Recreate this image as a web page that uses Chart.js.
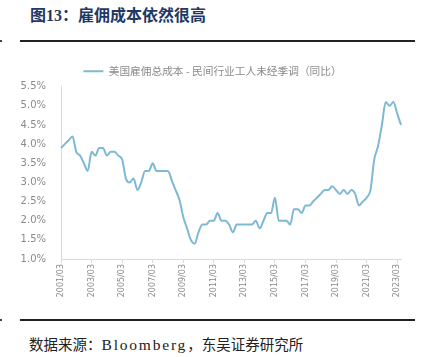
<!DOCTYPE html>
<html><head><meta charset="utf-8">
<script src="https://cdn.jsdelivr.net/npm/chart.js@4"></script>
<style>
html,body{margin:0;padding:0;background:#fff;width:425px;height:357px;overflow:hidden;position:relative}
#title{position:absolute;left:30px;top:2px;font:bold 16px "Liberation Serif","Noto Sans CJK SC";color:#1f3864;white-space:nowrap}
.rule{position:absolute;left:20px;width:395px;height:2px;background:#222}
.dot{position:absolute;left:0;width:2px;height:2px;background:#444}
#src{position:absolute;left:29px;top:333px;font:14.5px "Liberation Serif","Noto Sans CJK SC";color:#222;white-space:nowrap}
#src .en{font-size:15.5px;letter-spacing:1.8px}
#box{position:absolute;left:0;top:52px;width:425px;height:253px}
</style></head><body>
<div id="title">图13：雇佣成本依然很高</div>
<div class="rule" style="top:40px"></div><div class="dot" style="top:40px"></div>
<div class="rule" style="top:319px"></div><div class="dot" style="top:319px"></div>
<div id="src">数据来源：<span class="en">Bloomberg</span>，东吴证券研究所</div>
<div id="box"><canvas id="c"></canvas></div>
<script>
const years = [2001,2002,2003,2004,2005,2006,2007,2008,2009,2010,2011,2012,2013,2014,2015,2016,2017,2018,2019,2020,2021,2022,2023];
const months = ['03','06','09','12'];
const categories = [];
years.forEach(y => months.forEach(m => { if (!(y === 2023 && (m === '09' || m === '12'))) categories.push(y + '/' + m); }));
const seriesName = '美国雇佣总成本 - 民间行业工人未经季调（同比）';
const costYoY = [
 3.9,4.0,4.1,4.2, 3.8,3.7,3.5,3.3, 3.8,3.7,3.9,3.9, 3.7,3.8,3.8,3.7,
 3.6,3.1,3.0,3.1, 2.8,3.0,3.3,3.3, 3.5,3.3,3.3,3.3, 3.3,3.05,2.8,2.55,
 2.1,1.8,1.5,1.4, 1.7,1.9,1.9,2.0, 2.0,2.2,2.0,2.0, 1.9,1.7,1.9,1.9,
 1.9,1.9,1.9,2.0, 1.8,2.0,2.2,2.2, 2.6,2.0,2.0,2.0, 1.9,2.3,2.3,2.2,
 2.4,2.4,2.5,2.6, 2.7,2.8,2.8,2.9, 2.8,2.7,2.8,2.7, 2.8,2.7,2.4,2.5,
 2.6,2.8,3.6,3.95, 4.5,5.1,5.0,5.1, 4.8,4.5
];
const yTicks = [1.0,1.5,2.0,2.5,3.0,3.5,4.0,4.5,5.0,5.5];
const lineColor = '#7db8d5';
const tickColor = '#8a8a8a';
const axisColor = '#d9d9d9';

const shiftLegend = {
  id: 'shiftLegend',
  afterLayout(chart) { if (chart.legend) { chart.legend.left += 12; chart.legend.right += 12; } }
};

new Chart(document.getElementById('c'), {
  type: 'line',
  data: { labels: categories, datasets: [{
    label: seriesName, data: costYoY, borderColor: lineColor, backgroundColor: lineColor,
    borderWidth: 2, pointRadius: 0, tension: 0.4, cubicInterpolationMode: 'monotone', fill: false
  }]},
  plugins: [shiftLegend],
  options: {
    responsive: true, maintainAspectRatio: false, animation: false,
    layout: { padding: { left: 0, right: 24, top: 4, bottom: 0 } },
    plugins: {
      tooltip: { enabled: false },
      legend: {
        display: true, position: 'top', align: 'center',
        labels: {
          boxWidth: 20, boxHeight: 2, padding: 10, color: '#8a8a8a',
          font: { family: '"Noto Sans CJK SC"', size: 10.7 },
          generateLabels: (chart) => Chart.defaults.plugins.legend.labels.generateLabels(chart).map(l => Object.assign(l, { lineWidth: 0 }))
        }
      }
    },
    scales: {
      x: {
        type: 'category', offset: false,
        grid: { display: true, drawOnChartArea: false, drawTicks: true, tickLength: 4, color: axisColor },
        border: { display: true, color: axisColor, width: 1 },
        ticks: {
          autoSkip: false, maxRotation: 90, minRotation: 90, padding: 1, color: tickColor,
          font: { family: '"DejaVu Sans"', size: 8 },
          callback: function(v, i) { return i % 8 === 0 ? categories[i] : null; }
        },
        afterFit: (s) => { s.height = 46; }
      },
      y: {
        min: 1.0, max: 5.5,
        grid: { display: false },
        border: { display: true, color: axisColor, width: 1 },
        afterBuildTicks: (s) => { s.ticks = yTicks.map(v => ({ value: v })); },
        afterFit: (s) => { s.width = 61; },
        ticks: {
          color: tickColor, padding: 7,
          font: { family: '"DejaVu Sans"', size: 10 },
          callback: (v) => v.toFixed(1) + '%'
        }
      }
    }
  }
});
</script>
</body></html>
